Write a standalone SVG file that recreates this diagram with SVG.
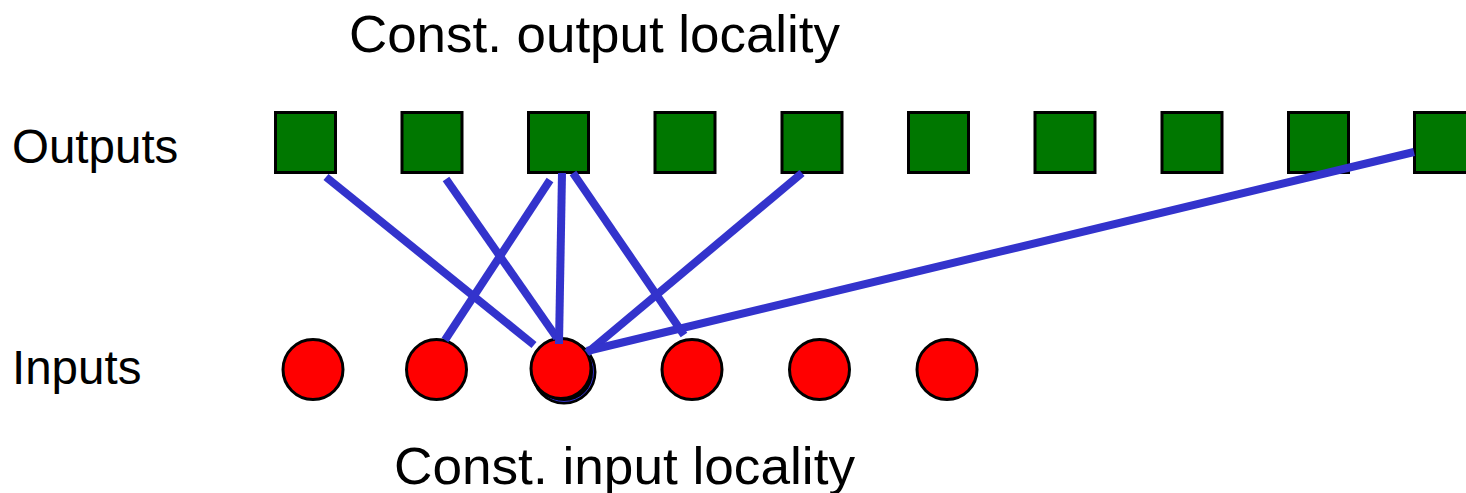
<svg xmlns="http://www.w3.org/2000/svg" width="1466" height="493" viewBox="0 0 1466 493">
<style>
.lbl{font-family:"Liberation Sans",Arial,sans-serif;fill:#000}
.sq{fill:#007700;stroke:#000;stroke-width:3}
.in{fill:#ff0000;stroke:#000;stroke-width:3}
.edge{stroke:#3333cc;stroke-width:8;fill:none}
</style>
<rect width="1466" height="493" fill="#fff"/>
<text class="lbl" x="349" y="52" font-size="52" textLength="491" lengthAdjust="spacingAndGlyphs">Const. output locality</text>
<text class="lbl" x="12" y="163" font-size="47.5">Outputs</text>
<text class="lbl" x="12" y="384" font-size="47.5">Inputs</text>
<text class="lbl" x="394" y="484" font-size="52" textLength="461" lengthAdjust="spacingAndGlyphs">Const. input locality</text>
<g id="out1"><rect class="sq" x="275.5" y="112.5" width="60" height="60"/></g>
<g id="out2"><rect class="sq" x="402" y="112.5" width="60" height="60"/></g>
<g id="out3"><rect class="sq" x="528.5" y="112.5" width="60" height="60"/></g>
<g id="out4"><rect class="sq" x="655" y="112.5" width="60" height="60"/></g>
<g id="out5"><rect class="sq" x="782" y="112.5" width="60" height="60"/></g>
<g id="out6"><rect class="sq" x="908.5" y="112.5" width="60" height="60"/></g>
<g id="out7"><rect class="sq" x="1035" y="112.5" width="60" height="60"/></g>
<g id="out8"><rect class="sq" x="1162" y="112.5" width="60" height="60"/></g>
<g id="out9"><rect class="sq" x="1288.5" y="112.5" width="60" height="60"/></g>
<g id="out10"><rect class="sq" x="1414.5" y="112.5" width="60" height="60"/></g>
<g id="in1"><circle class="in" cx="313" cy="369.5" r="30"/></g>
<g id="in2"><circle class="in" cx="436.5" cy="369.5" r="30"/></g>
<g id="in3">
<circle cx="564" cy="372" r="31" fill="#000" stroke="#000" stroke-width="3"/>
<circle cx="564" cy="372" r="29.5" fill="none" stroke="#3333cc" stroke-width="1"/>
<circle class="in" cx="561" cy="368.5" r="30"/>
</g>
<g id="in4"><circle class="in" cx="692" cy="369.5" r="30"/></g>
<g id="in5"><circle class="in" cx="819.5" cy="369.5" r="30"/></g>
<g id="in6"><circle class="in" cx="947" cy="369.5" r="30"/></g>
<g id="connectors">
<line class="edge" x1="326" y1="177" x2="534" y2="345"/>
<line class="edge" x1="446" y1="179" x2="557" y2="338"/>
<line class="edge" x1="550" y1="180" x2="445" y2="340"/>
<line class="edge" x1="562" y1="173" x2="559" y2="344"/>
<line class="edge" x1="573" y1="173" x2="684" y2="335"/>
<line class="edge" x1="802" y1="173" x2="587" y2="353"/>
<line class="edge" x1="1414" y1="152" x2="587" y2="351"/>
</g>
</svg>
